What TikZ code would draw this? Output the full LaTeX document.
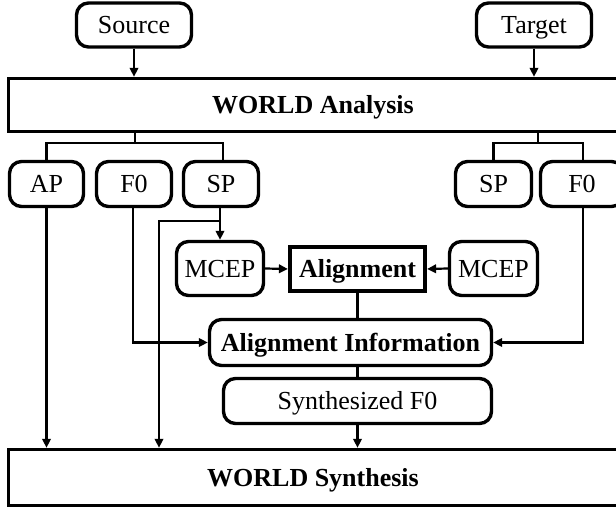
\documentclass[tikz,border=0pt]{standalone}
\usepackage{fontspec}
\setmainfont{Liberation Serif}
\usetikzlibrary{arrows.meta,calc}
\begin{document}
\begin{tikzpicture}[x=1pt,y=-1pt,
  every node/.style={font=\fontsize{26}{30}\selectfont, text height=21pt, text depth=3pt},
  rbox/.style={draw, line width=3.4pt, rounded corners=12pt, inner sep=0pt, align=center},
  bigbox/.style={draw, line width=3.4pt, inner sep=0pt, font=\fontsize{26}{30}\selectfont\bfseries},
  conn/.style={line width=2.2pt},
  arr/.style={line width=2.2pt, -{Triangle[length=9pt,width=8.5pt]}}
]
\useasboundingbox (0,0) rectangle (616,510);
% top inputs
\node[rbox, minimum width=115pt, minimum height=44pt] (src) at (134,25) {Source};
\node[rbox, minimum width=115pt, minimum height=44pt] (tgt) at (534,25) {Target};
% analysis / synthesis
\node[bigbox, minimum width=609pt, minimum height=53pt] (ana) at (313,105) {WORLD Analysis};
\node[bigbox, minimum width=609pt, minimum height=56pt] (syn) at (313,477.5) {WORLD Synthesis};
% features
\node[rbox, minimum width=74pt, minimum height=45pt] (ap) at (46.5,184) {AP};
\node[rbox, minimum width=75pt, minimum height=45pt] (f0l) at (134,184) {F0};
\node[rbox, minimum width=75pt, minimum height=45pt] (spl) at (221,184) {SP};
\node[rbox, minimum width=76pt, minimum height=45pt] (spr) at (493.5,184) {SP};
\node[rbox, minimum width=83pt, minimum height=45pt] (f0r) at (582,184) {F0};
% mcep / alignment
\node[rbox, minimum width=87pt, minimum height=54pt] (mcl) at (220,268.5) {MCEP};
\node[rbox, minimum width=88pt, minimum height=54pt] (mcr) at (493.5,268.5) {MCEP};
\node[draw, line width=4.2pt, inner sep=0pt, minimum width=135pt, minimum height=44pt, font=\fontsize{26}{30}\selectfont\bfseries] (aln) at (357.5,269) {Alignment};
\node[rbox, minimum width=282pt, minimum height=46pt, font=\fontsize{26}{30}\selectfont\bfseries] (ai) at (350.5,342.5) {Alignment Information};
\node[rbox, minimum width=268pt, minimum height=45pt] (sf) at (357.5,401) {Synthesized F0};
% coordinates
\coordinate (sbr) at (135,143);
\coordinate (tbr) at (538,143);
\coordinate (spk) at (220,221);
\coordinate (spd) at (159,221);
\coordinate (spx) at ($(spl.south)+(-1,0)$);
\coordinate (f0lx) at ($(f0l.south)+(-1,0)$);
\coordinate (f0rx) at ($(f0r.south)+(1,0)$);
\coordinate (sptop) at ($(spl.north)+(2,0)$);
\coordinate (f0rtop) at ($(f0r.north)+(1,0)$);
% connectors
\draw[arr] (src.south) -- (src.south |- ana.north);
\draw[arr] (tgt.south) -- (tgt.south |- ana.north);
\draw[conn] (ana.south -| sbr) -- (sbr);
\draw[conn] (ap.north) |- (sbr) -| (sptop);
\draw[conn] (ana.south -| tbr) -- (tbr);
\draw[conn] (spr.north) |- (tbr) -| (f0rtop);
\draw[arr] (ap.south) -- (ap.south |- syn.north);
\draw[arr] (spx) -- (spx |- mcl.north);
\draw[arr] (spk) -- (spd) -- (spd |- syn.north);
\draw[arr] (f0lx) |- (ai.west);
\draw[arr] (f0rx) |- (ai.east);
\draw[arr] (mcl.east) -- (aln.west);
\draw[arr] (mcr.west) -- (aln.east);
\draw[conn] (aln.south) -- (aln.south |- ai.north);
\draw[conn] (aln.south |- ai.south) -- (aln.south |- sf.north);
\draw[arr] (sf.south) -- (sf.south |- syn.north);
\end{tikzpicture}
\end{document}
